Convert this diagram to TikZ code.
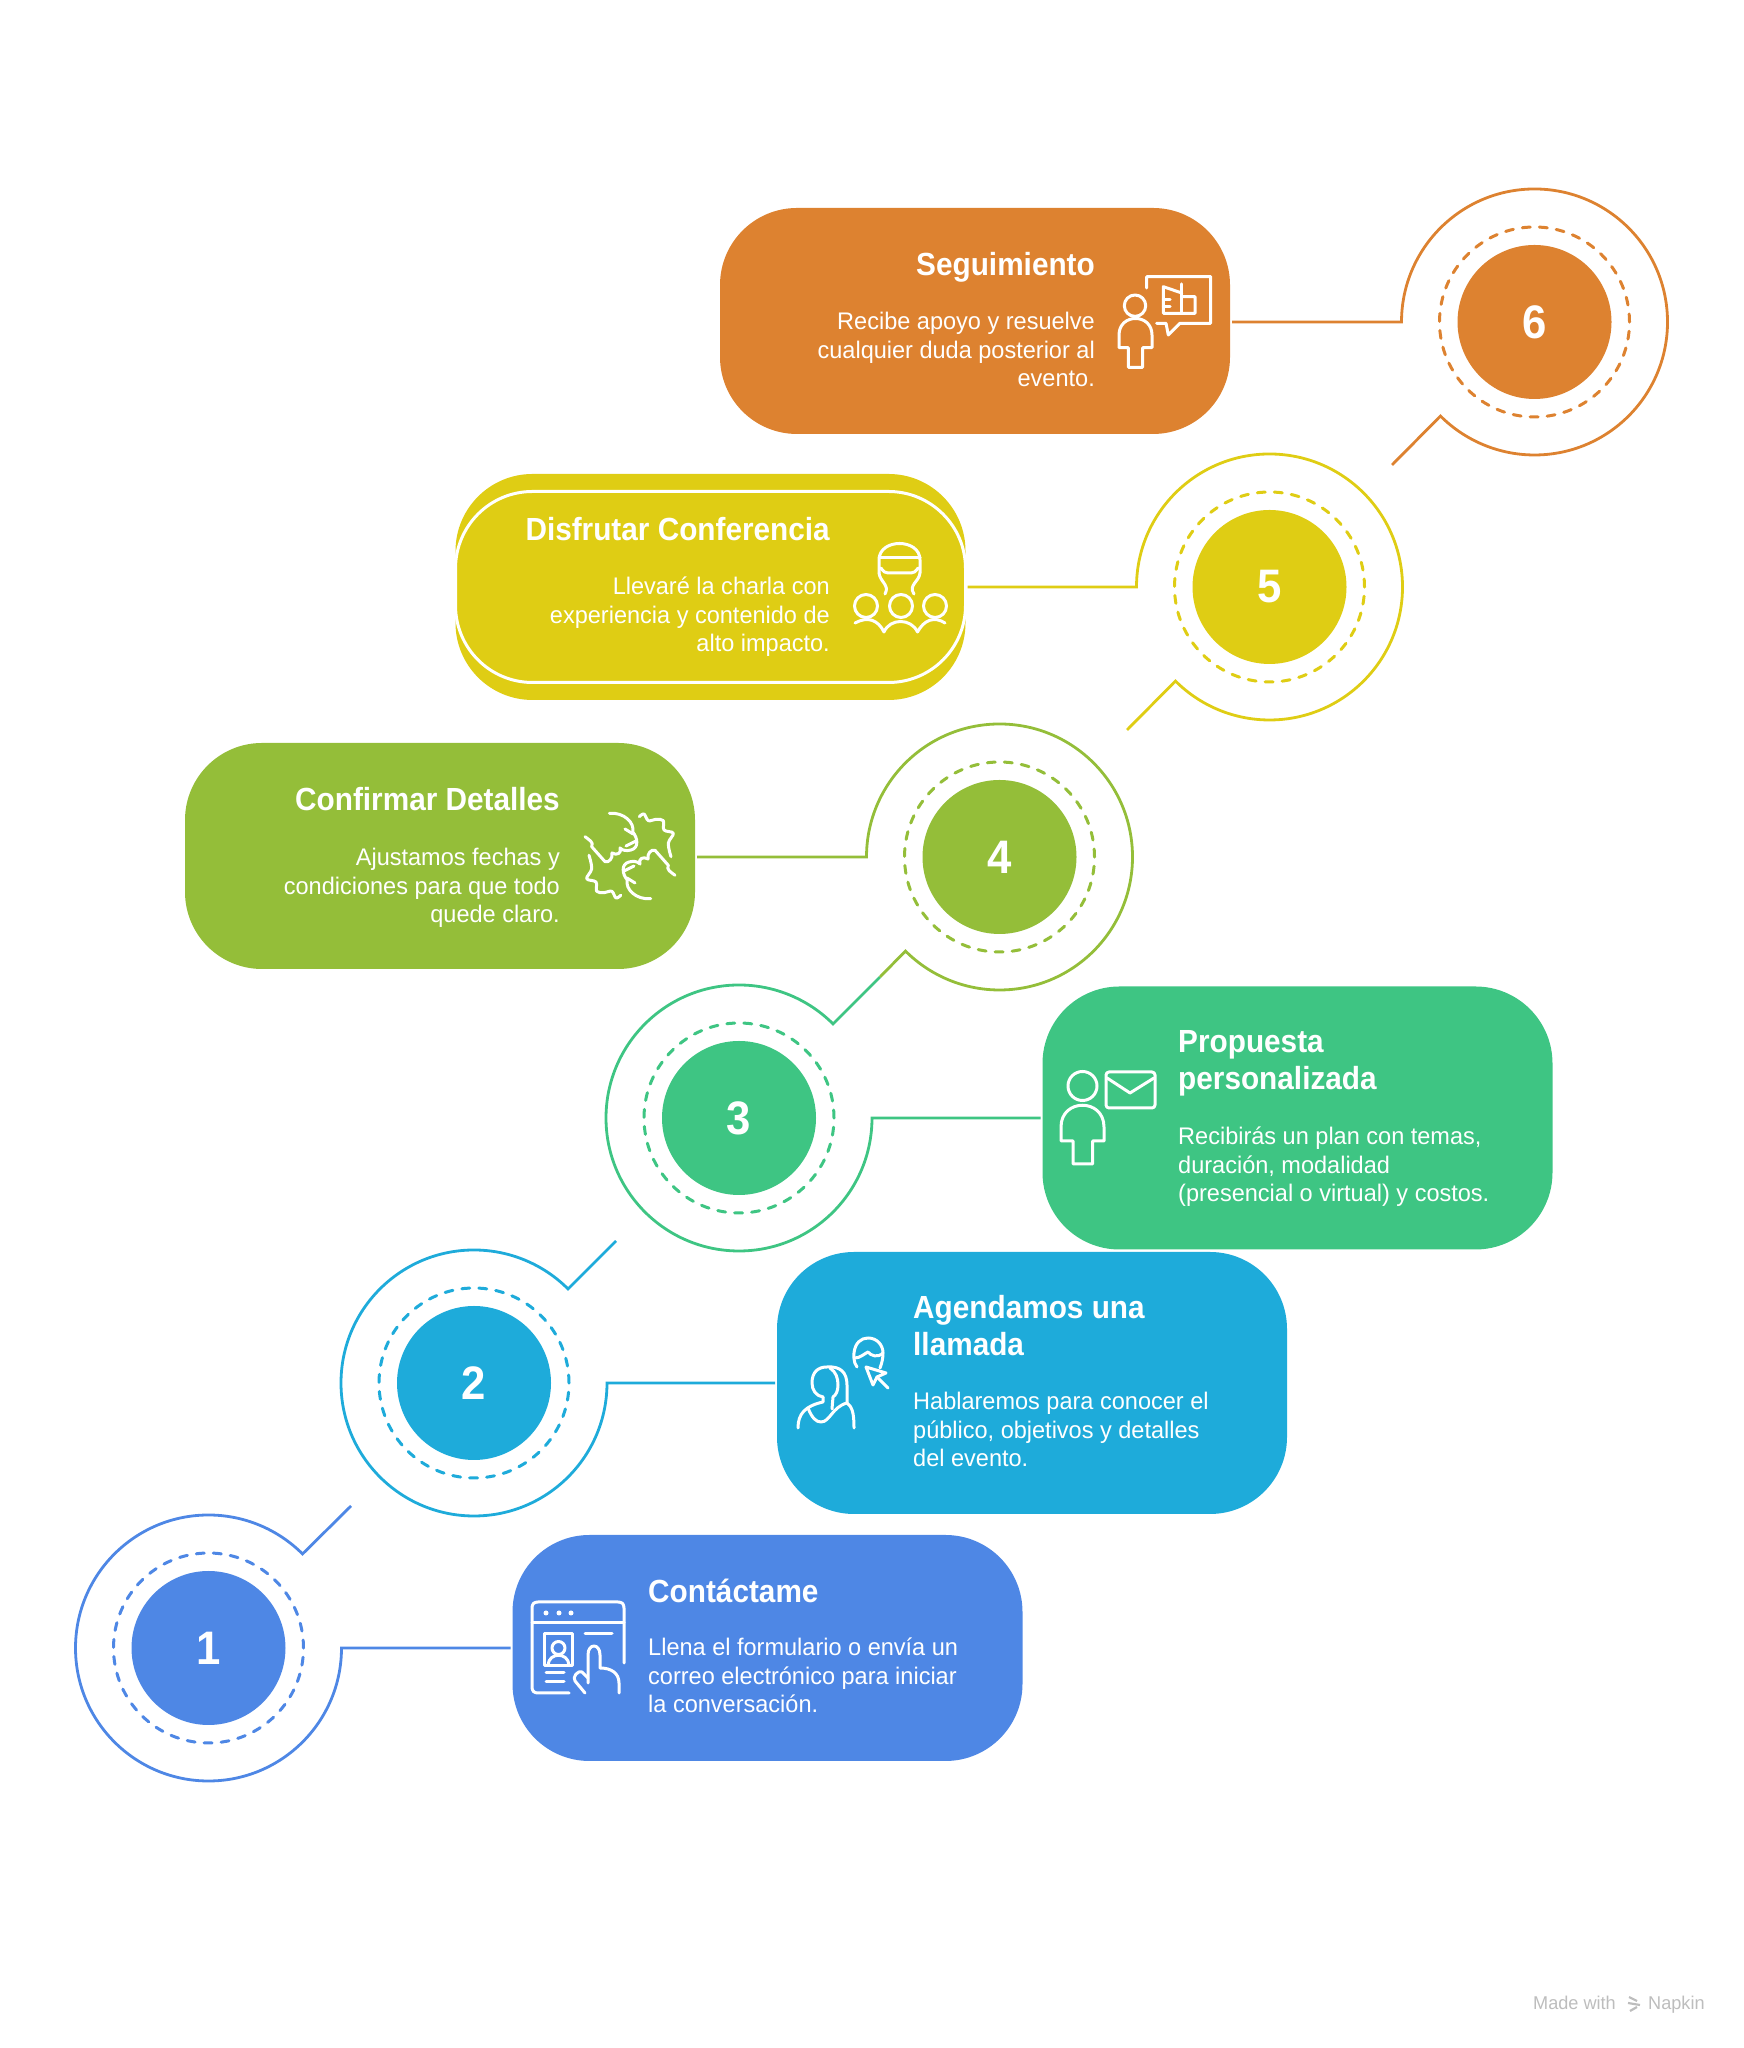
\documentclass[tikz,border=0pt]{standalone}
\usepackage{fontspec}
\setmainfont[FakeStretch=0.98]{Liberation Sans}
\newfontfamily\headfont[FakeStretch=0.93]{Liberation Sans Bold}
\usetikzlibrary{positioning}
\definecolor{stepblue}{HTML}{4E87E5}
\definecolor{stepcyan}{HTML}{1EABDA}
\definecolor{stepgreen}{HTML}{3EC583}
\definecolor{steplime}{HTML}{94BE39}
\definecolor{stepyellow}{HTML}{DFCD14}
\definecolor{steporange}{HTML}{DD8230}
\definecolor{markgray}{HTML}{BDBDBD}
\tikzset{
    stepdisc/.style={
                circle,
                fill=#1,
                text=white,
                inner sep=0pt,
                minimum size=154pt,
                font=\headfont\fontsize{47}{47}\selectfont
            },
    stepring/.style={
                circle,
                draw=#1,
                inner sep=0pt,
                line width=3pt,
                line cap=round,
                dash pattern=on 8pt off 9.05pt,
                minimum size=190pt
            },
    stepouter/.style={
                circle,
                inner sep=0pt,
                outer sep=0pt,
                minimum size=266pt
            },
    stepcard/.style={
                rectangle,
                fill=#1,
                rounded corners=77pt,
                inner sep=0pt,
                outer sep=0pt,
                minimum width=510pt
            },
    steplink/.style={
                draw=#1,
                line width=2.8pt,
                line join=miter,
                shorten <=2pt
            },
    cardtitle/.style={
                text=white,
                inner sep=0pt,
                font=\headfont\fontsize{32}{37.5}\selectfont
            },
    cardbody/.style={
                text=white,
                inner sep=0pt,
                font=\fontsize{24}{28.5}\selectfont
            },
    iconline/.style={
                draw=white,
                line width=3pt,
                line cap=round,
                line join=round
            },
}
\newcommand{\halfshake}{
    \draw[iconline] (-20.7,-42.7) .. controls (-6,-44) and (5,-33) .. (2.7,-24) .. controls (8,-18) and (9,-8) .. (1,-6) .. controls (-3,-5) and (-7,-5) .. (-10,-8) .. controls (-8,-3) and (-13,0) .. (-18,-3) .. controls (-17,2) and (-21,7) .. (-25,5.7) -- (-38.3,-9.3) .. controls (-36,-14) and (-41,-16) .. (-45,-19.3);
    \draw[iconline] plot[smooth,tension=.6] coordinates {(9.3,-39.3) (14,-42) (18.3,-35.3) (26,-36.7) (33.3,-35.3) (34,-26) (43.3,-22.7) (38.3,-12.7) (41,0.7)};
    \draw[iconline] (-5,-27) -- (3,-22);
    \draw[iconline] (-4,-10) -- (6,-15);
}
\begin{document}
\begin{tikzpicture}[x=1pt,y=1pt]
\useasboundingbox (0,0) rectangle (1743,2048);
% Discs, rings and outer circles
\node[stepdisc=stepblue] (disc1) at (208.5,400) {1};
\node[stepring=stepblue] (ring1) at (disc1) {};
\node[stepouter] (outer1) at (disc1) {};
\node[stepdisc=stepcyan] (disc2) at (474,665) {2};
\node[stepring=stepcyan] (ring2) at (disc2) {};
\node[stepouter] (outer2) at (disc2) {};
\node[stepdisc=stepgreen] (disc3) at (739,930) {3};
\node[stepring=stepgreen] (ring3) at (disc3) {};
\node[stepouter] (outer3) at (disc3) {};
\node[stepdisc=steplime] (disc4) at (999.5,1191) {4};
\node[stepring=steplime] (ring4) at (disc4) {};
\node[stepouter] (outer4) at (disc4) {};
\node[stepdisc=stepyellow] (disc5) at (1269.5,1461) {5};
\node[stepring=stepyellow] (ring5) at (disc5) {};
\node[stepouter] (outer5) at (disc5) {};
\node[stepdisc=steporange] (disc6) at (1534.5,1726) {6};
\node[stepring=steporange] (ring6) at (disc6) {};
\node[stepouter] (outer6) at (disc6) {};
% Cards
\node[stepcard=stepblue,minimum height=226pt] (card1) at (767.5,400) {};
\node[stepcard=stepcyan,minimum height=262pt] (card2) at (1032,665) {};
\node[stepcard=stepgreen,minimum height=263pt] (card3) at (1297.5,930) {};
\node[stepcard=steplime,minimum height=226pt] (card4) at (440,1192) {};
\node[stepcard=stepyellow,minimum height=226pt] (card5) at (710.5,1461) {};
\node[stepcard=steporange,minimum height=226pt] (card6) at (975,1727) {};
\node[rectangle,draw=white,line width=3pt,rounded corners=77pt,minimum width=510pt,minimum height=191pt,inner sep=0pt,outer sep=0pt] (card5inner) at (card5) {};
% Free ends of the pointers
\coordinate (tip1) at (351,542);
\coordinate (tip2) at (616,807);
\coordinate (tip3) at (880,1071);
\coordinate (tip5) at (1127,1318);
\coordinate (tip6) at (1392,1583);
% Connectors
\draw[steplink=stepblue] (card1.west) -- (outer1.east) arc[start angle=0,end angle=-315,radius=133] -- (tip1);
\draw[steplink=stepcyan] (card2.west) -- (outer2.east) arc[start angle=0,end angle=-315,radius=133] -- (tip2);
\draw[steplink=stepgreen] (card3.west) -- (outer3.east) arc[start angle=0,end angle=-315,radius=133] -- (tip3);
\draw[steplink=steplime] (card4.east |- outer4.west) -- (outer4.west) arc[start angle=180,end angle=-135,radius=133] -- (tip3);
\draw[steplink=stepyellow] (card5.east) -- (outer5.west) arc[start angle=180,end angle=-135,radius=133] -- (tip5);
\draw[steplink=steporange] (card6.east |- outer6.west) -- (outer6.west) arc[start angle=180,end angle=-135,radius=133] -- (tip6);
% Titles and descriptions
\node[cardtitle,anchor=base west] (title1) at (648,445) {Contáctame};
\node[cardbody,anchor=base west,align=left] (body1) at (648,335) {Llena el formulario o envía un\\correo electrónico para iniciar\\la conversación.};
\node[cardtitle,anchor=base west,align=left] (title2) at (913,692) {Agendamos una\\llamada};
\node[cardbody,anchor=base west,align=left] (body2) at (913,581) {Hablaremos para conocer el\\público, objetivos y detalles\\del evento.};
\node[cardtitle,anchor=base west,align=left] (title3) at (1178,958) {Propuesta\\personalizada};
\node[cardbody,anchor=base west,align=left] (body3) at (1178,846) {Recibirás un plan con temas,\\duración, modalidad\\(presencial o virtual) y costos.};
\node[cardtitle,anchor=base east] (title4) at (560,1237) {Confirmar Detalles};
\node[cardbody,anchor=base east,align=right] (body4) at (560,1125) {Ajustamos fechas y\\condiciones para que todo\\quede claro.};
\node[cardtitle,anchor=base east] (title5) at (830,1507) {Disfrutar Conferencia};
\node[cardbody,anchor=base east,align=right] (body5) at (830,1396) {Llevaré la charla con\\experiencia y contenido de\\alto impacto.};
\node[cardtitle,anchor=base east] (title6) at (1095,1772) {Seguimiento};
\node[cardbody,anchor=base east,align=right] (body6) at (1095,1661) {Recibe apoyo y resuelve\\cualquier duda posterior al\\evento.};
% Icons, in the pixels of the reference
\begin{scope}[shift={(0,2048)},yscale=-1]
% Form and hand
\draw[iconline] (624,1663) -- (624,1608) .. controls (624,1604) and (622,1602) .. (618,1602) -- (538,1602) .. controls (534,1602) and (532,1604) .. (532,1608) -- (532,1687) .. controls (532,1691) and (534,1693) .. (538,1693) -- (569,1693);
\draw[iconline] (532,1623) -- (624,1623);
\fill[white] (546,1613) circle[radius=2.5] (559,1613) circle[radius=2.5] (571,1613) circle[radius=2.5];
\draw[iconline] (544,1634) rectangle (572,1666);
\draw[iconline] (558.5,1648) circle[radius=6.5];
\draw[iconline] (548,1665) .. controls (549,1652) and (568,1652) .. (569,1665);
\draw[iconline] (546,1673) -- (564,1673) (546,1682) -- (564,1682) (585,1634) -- (612,1634);
\draw[iconline] (619,1693) -- (619,1683) .. controls (619,1673) and (611,1668) .. (600,1668) -- (600,1655) .. controls (600,1643) and (588,1643) .. (588,1655) -- (588,1683);
\draw[iconline] (588,1678) -- (582,1672) .. controls (578,1670) and (572,1677) .. (575,1681) -- (585,1693);
% Woman and cursor
\draw[iconline] (823,1397) .. controls (816,1396) and (812,1390) .. (812,1383) .. controls (812,1372) and (818,1367) .. (827,1367) .. controls (840,1366) and (847,1372) .. (847,1385) -- (847,1403) .. controls (852,1407) and (854,1412) .. (854,1428);
\draw[iconline] (830,1368) .. controls (836,1372) and (838,1378) .. (838,1385) .. controls (838,1391) and (836,1395) .. (833,1397) -- (832,1409);
\draw[iconline] (798,1428) .. controls (798,1414) and (805,1406) .. (823,1402) -- (823,1397);
\draw[iconline] (808,1408) .. controls (812,1418) and (816,1422) .. (821,1422) .. controls (830,1422) and (832,1407) .. (847,1403);
\draw[iconline] (857,1367) .. controls (853,1362) and (854,1355) .. (854,1353) .. controls (855,1343) and (861,1338) .. (868,1338) .. controls (877,1338) and (883,1345) .. (883,1353) .. controls (883,1358) and (882,1363) .. (880,1368);
\draw[iconline] (855,1358) .. controls (860,1358) and (864,1354) .. (868,1352) .. controls (871,1356) and (878,1358) .. (883,1353);
\draw[iconline] (866,1367) -- (873,1385) -- (877,1377) -- (886,1373) -- cycle;
\draw[iconline] (877,1377) -- (888,1388);
% Person and envelope
\draw[iconline] (1082.5,1086) circle[radius=14.5];
\draw[iconline] (1073,1164) -- (1073,1141) -- (1061,1141) -- (1061,1127) .. controls (1061,1098) and (1104,1098) .. (1104,1127) -- (1104,1141) -- (1092.5,1141) -- (1092.5,1164) -- cycle;
\draw[iconline,rounded corners=3pt] (1106,1072) rectangle (1155,1108);
\draw[iconline] (1107,1078) -- (1130,1093) -- (1154,1078);
% Hands
\begin{scope}[shift={(630,856)}]
\halfshake
\begin{scope}[rotate=180]
\halfshake
\end{scope}
\end{scope}
% Speaker and audience
\draw[iconline] (879,573) -- (879,560) .. controls (879,538) and (920,538) .. (920,560) -- (920,573);
\draw[iconline] (879,558) -- (920,558);
\draw[iconline,rounded corners=4pt] (881,568) -- (884,573) -- (915,573) -- (918,568);
\draw[iconline] (879,573) .. controls (880,582) and (890,585) .. (885,594);
\draw[iconline] (920,573) .. controls (919,582) and (908,585) .. (914,594);
\draw[iconline] (866,606) circle[radius=11.5] (901,606) circle[radius=11.5] (935,606) circle[radius=11.5];
\draw[iconline] (855,623) .. controls (868,616) and (878,620) .. (884,632) .. controls (890,618) and (911,618) .. (917.5,632) .. controls (924,620) and (934,616) .. (945,623);
% Person and speech bubble
\draw[iconline] (1135,305.7) circle[radius=10.7];
\draw[iconline] (1128.3,367.3) -- (1128.3,347.7) -- (1119,347.7) -- (1119,335) .. controls (1119,313) and (1152,313) .. (1152,335) -- (1152,347.7) -- (1142.7,347.7) -- (1142.7,367.3) -- cycle;
\draw[iconline] (1146.7,288) -- (1146.7,276.7) -- (1210.7,276.7) -- (1210.7,323.3) -- (1180,323.3) -- (1168.3,335) -- (1166,323.3) -- (1156.7,323.3);
\draw[iconline] (1181.7,293) -- (1163.3,286.7) -- (1163.3,313.3) -- (1195,313.3) -- (1195,296.7) -- (1181.7,296.7);
\draw[iconline] (1181.7,284) -- (1181.7,313.3);
\draw[iconline] (1163.3,300) -- (1170,300) (1163.3,306.7) -- (1170,306.7);
% Mark
\draw[markgray,line width=2.2pt] (1629,1997) -- (1637,2001) (1628,2003) -- (1640,2005) (1630,2011) -- (1637,2007);
\end{scope}
\node[anchor=base west,inner sep=0pt,text=markgray,font=\fontsize{18.5}{18.5}\selectfont] (mark1) at (1533,38) {Made with};
\node[anchor=base west,inner sep=0pt,text=markgray,font=\fontsize{18.5}{18.5}\selectfont] (mark2) at (1648,38) {Napkin};
\end{tikzpicture}
\end{document}
